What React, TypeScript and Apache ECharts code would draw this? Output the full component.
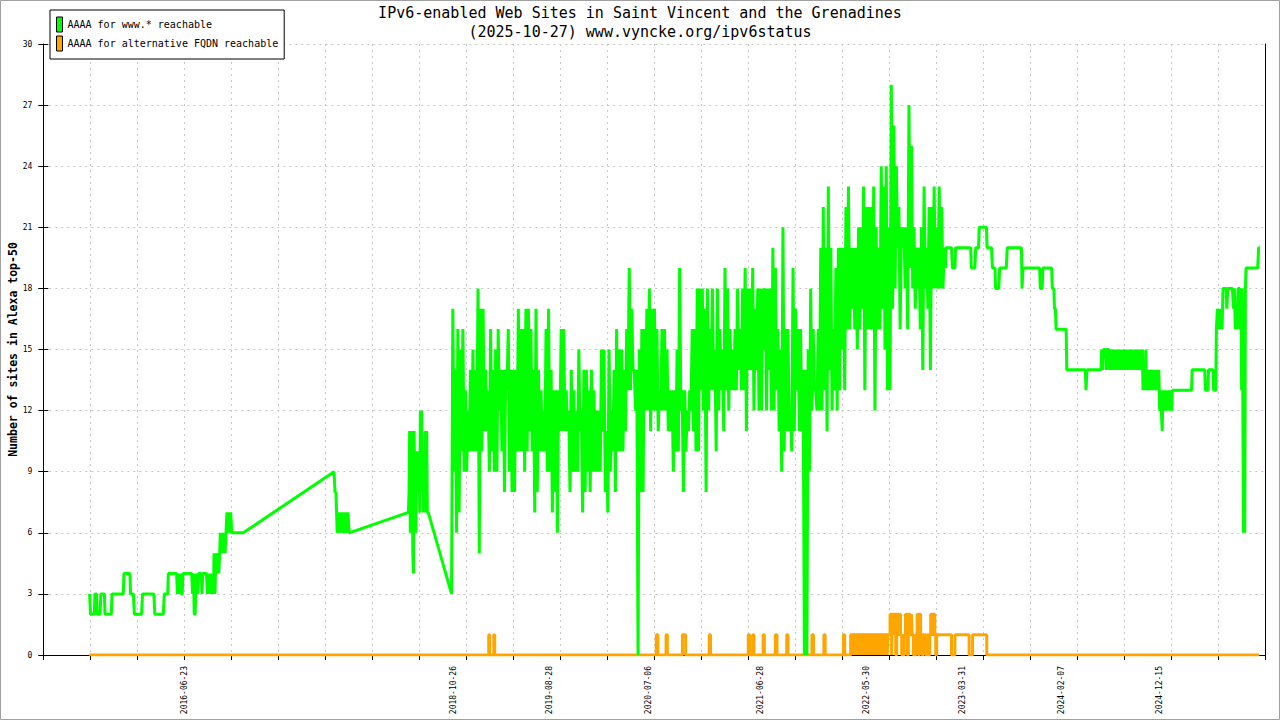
import { useEffect, useRef } from 'react';
import * as echarts from 'echarts';

const MONO = '"DejaVu Sans Mono", "Liberation Mono", monospace';

// x values are days counted from 2015-04-03
const ORIGIN = Date.UTC(2015, 3, 3);
const X_TICK = 149.2;
const X_MAX = 3879.2;

const xLabelDates = [
  '2016-06-23', '2018-10-26', '2019-08-28', '2020-07-06', '2021-06-28',
  '2022-05-30', '2023-03-31', '2024-02-07', '2024-12-15',
];

const TITLE = 'IPv6-enabled Web Sites in Saint Vincent and the Grenadines';
const SUBTITLE = '(2025-10-27) www.vyncke.org/ipv6status';
const GREEN_NAME = 'AAAA for www.* reachable';
const ORANGE_NAME = 'AAAA for alternative FQDN reachable';

// sparse samples before the daily series starts
const greenEarly: [number, number][] = [
  [147, 3], [150, 2], [162, 2], [164, 3], [169, 3], [171, 2], [180, 2], [183, 3], [194, 3], [196, 2],
  [216, 2], [218, 3], [254, 3], [256, 4], [275, 4], [277, 3], [286, 3], [289, 2], [312, 2], [315, 3],
  [351, 3], [354, 2], [381, 2], [384, 3], [395, 3], [397, 4], [423, 4], [426, 3], [429, 4], [432, 3],
  [435, 4], [438, 3], [441, 3], [443, 4], [471, 4], [474, 3], [477, 4], [479, 2], [482, 2], [484, 3],
  [487, 4], [490, 3], [493, 4], [501, 4], [504, 3], [506, 4], [518, 4], [521, 3], [524, 4], [527, 3],
  [530, 4], [533, 3], [536, 4], [540, 3], [542, 5], [545, 3], [548, 5], [551, 4], [554, 5], [557, 4],
  [560, 5], [562, 6], [565, 5], [568, 6], [571, 5], [574, 6], [577, 5], [580, 6], [583, 7], [586, 6],
  [589, 7], [592, 6], [595, 7], [598, 6], [635, 6], [923, 9], [926, 8], [929, 8], [931, 7], [933, 6],
  [937, 7], [940, 6], [943, 7], [946, 6], [951, 7], [956, 6], [961, 7], [964, 6], [967, 7], [971, 6],
  [1159, 7], [1161, 8], [1163, 11], [1165, 6], [1167, 11], [1169, 8], [1171, 11], [1173, 5], [1175, 4],
  [1177, 11], [1179, 8], [1181, 10], [1183, 6], [1185, 10], [1187, 9], [1189, 10], [1191, 8], [1193, 10],
  [1195, 7], [1197, 12], [1199, 8], [1201, 12], [1203, 9], [1205, 10], [1207, 7], [1209, 10], [1211, 8],
  [1213, 11], [1215, 7], [1217, 11], [1219, 7], [1222, 7], [1296, 3],
];

// daily period: highest and lowest value in each 8-day bin
const DENSE_START = 1300;
const DENSE_STEP = 8;
const greenDenseHigh = [
  17, 14, 16, 15, 16, 13, 12, 14, 15, 14, 18, 17, 17, 14, 13, 16, 14, 15, 16, 14,
  14, 14, 16, 14, 14, 14, 17, 16, 16, 17, 17, 16, 14, 17, 14, 13, 12, 16, 17, 14,
  13, 13, 13, 16, 16, 13, 12, 14, 13, 12, 15, 12, 14, 14, 13, 14, 13, 12, 12, 15,
  15, 11, 15, 12, 14, 16, 15, 15, 14, 16, 19, 17, 14, 14,
  15, 16, 16, 17, 18, 17, 17, 16, 13, 16, 16, 15, 13, 13, 13, 15, 19, 13, 13, 12,
  13, 16, 16, 18, 18, 18, 17, 18, 16, 18, 15, 18, 16, 15, 19, 18, 16, 15, 16, 18,
  16, 18, 19, 18, 18, 19, 17, 18,
  18, 18, 18, 18, 18, 20, 19, 16, 15, 21, 16, 16, 12, 19, 17, 16, 16, 14, 14, 15,
  18, 16, 13, 16,
  20, 22, 20, 23, 20, 16, 19, 20, 20, 20, 22, 23, 20, 20, 20, 21, 21, 23, 22,
  22, 22, 23, 21, 20, 24, 23, 24, 21, 28, 26, 24, 22, 21, 21, 21, 27, 25, 21, 20,
  20, 21, 23, 20, 22, 22, 23, 21, 23, 22, 20,
];
const greenDenseLow = [
  9, 6, 7, 10, 9, 9, 10, 10, 10, 10, 5, 10, 11, 11, 9, 10, 9, 9, 12, 10,
  8, 13, 9, 8, 8, 10, 10, 10, 9, 10, 11, 10, 7, 8, 10, 10, 10, 9, 9, 7,
  8, 6, 11, 11, 11, 11, 8, 9, 9, 9, 11, 7, 8, 9, 8, 9, 9, 9, 9, 11,
  8, 7, 9, 10, 8, 10, 10, 10, 11, 13, 13, 14, 12, 0,
  8, 8, 12, 12, 11, 12, 12, 11, 12, 12, 12, 11, 11, 9, 10, 10, 12, 8, 10, 11,
  12, 11, 10, 10, 13, 12, 8, 12, 13, 13, 10, 12, 13, 11, 13, 12, 13, 13, 13, 14,
  13, 13, 11, 14, 14, 12, 14, 12,
  12, 15, 12, 14, 12, 12, 13, 11, 9, 10, 11, 11, 10, 11, 13, 11, 11, 0, 0, 9,
  12, 13, 12, 12,
  12, 13, 11, 14, 12, 13, 12, 13, 15, 13, 16, 16, 17, 16, 15, 16, 17, 13, 16,
  16, 16, 12, 16, 16, 17, 15, 13, 13, 17, 18, 20, 16, 20, 18, 16, 19, 18, 17, 18,
  16, 14, 18, 17, 14, 18, 18, 18, 18, 18, 19,
];

const greenLate: [number, number][] = [
  [2865, 20], [2883, 20], [2886, 19], [2894, 19], [2896, 20], [2944, 20], [2946, 19], [2957, 19],
  [2960, 20], [2969, 20], [2971, 21], [2994, 21], [2996, 20], [3010, 20], [3013, 19], [3021, 19],
  [3023, 18], [3033, 18], [3036, 19], [3057, 19], [3060, 20], [3105, 20], [3107, 18], [3110, 19],
  [3163, 19], [3165, 18], [3171, 18], [3173, 19], [3201, 19], [3203, 18], [3208, 18], [3210, 17],
  [3213, 17], [3215, 16], [3247, 16], [3249, 14], [3308, 14], [3310, 13], [3313, 14], [3358, 14],
  [3360, 15], [3363, 14], [3365, 15], [3373, 15], [3375, 14], [3377, 15], [3383, 15], [3385, 14],
  [3387, 15], [3393, 14], [3395, 15], [3398, 14], [3400, 15], [3403, 14], [3406, 15], [3409, 14],
  [3412, 15], [3415, 14], [3418, 15], [3421, 14], [3424, 15], [3427, 14], [3430, 15], [3433, 14],
  [3436, 15], [3439, 14], [3442, 15], [3445, 14], [3448, 15], [3451, 14], [3454, 15], [3457, 14],
  [3460, 15], [3463, 14], [3466, 15], [3469, 14], [3472, 15], [3475, 14], [3478, 15], [3481, 14],
  [3484, 15], [3487, 14], [3489, 15], [3491, 13], [3494, 14], [3497, 13], [3500, 15], [3502, 13],
  [3505, 14], [3508, 13], [3511, 14], [3514, 13], [3517, 14], [3520, 13], [3523, 14], [3526, 13],
  [3529, 14], [3532, 13], [3535, 14], [3538, 13], [3541, 14], [3544, 12], [3547, 13], [3549, 12],
  [3552, 11], [3554, 13], [3557, 12], [3560, 13], [3563, 12], [3566, 13], [3569, 12], [3572, 13],
  [3575, 12], [3578, 13], [3582, 12], [3584, 13], [3645, 13], [3647, 14], [3687, 14], [3689, 13],
  [3697, 13], [3699, 14], [3713, 14], [3715, 13], [3722, 13], [3724, 16], [3727, 17], [3730, 16],
  [3733, 17], [3736, 16], [3739, 17], [3742, 16], [3745, 18], [3755, 18], [3757, 17], [3760, 18],
  [3775, 18], [3778, 17], [3781, 18], [3784, 16], [3787, 17], [3790, 16], [3793, 18], [3798, 18],
  [3800, 16], [3802, 18], [3804, 13], [3806, 18], [3808, 12], [3810, 6], [3812, 7], [3814, 6],
  [3816, 18], [3818, 19], [3855, 19], [3858, 20], [3862, 20],
];

// change points: value holds until the next entry
const orangeSteps: [number, number][] = [
  [146, 0], [1414, 1], [1417, 0], [1430, 1], [1433, 0], [1946, 1], [1951, 0], [1977, 1], [1981, 0],
  [2029, 1], [2039, 0], [2114, 1], [2118, 0], [2238, 1], [2242, 0], [2252, 1], [2256, 0], [2285, 1],
  [2289, 0], [2324, 1], [2329, 0], [2360, 1], [2364, 0], [2440, 1], [2445, 0], [2478, 1], [2482, 0],
  [2540, 1], [2544, 0], [2563, 1], [2567, 0], [2569, 1], [2574, 0], [2576, 1], [2581, 0], [2583, 1],
  [2588, 0], [2590, 1], [2595, 0], [2597, 1], [2602, 0], [2604, 1], [2609, 0], [2611, 1], [2616, 0],
  [2618, 1], [2623, 0], [2625, 1], [2630, 0], [2632, 1], [2637, 0], [2639, 1], [2644, 0], [2646, 1],
  [2651, 0], [2653, 1], [2658, 0], [2660, 1], [2665, 0], [2667, 1], [2672, 0], [2674, 1], [2679, 0],
  [2681, 1], [2688, 2], [2693, 0], [2695, 2], [2698, 1], [2700, 2], [2706, 0], [2709, 2], [2715, 1],
  [2718, 2], [2721, 1], [2725, 0], [2733, 1], [2737, 2], [2743, 0], [2746, 2], [2752, 1], [2756, 2],
  [2758, 1], [2762, 0], [2770, 1], [2774, 2], [2778, 0], [2781, 2], [2785, 1], [2790, 0], [2793, 1],
  [2801, 0], [2806, 1], [2810, 0], [2814, 1], [2817, 2], [2823, 1], [2826, 2], [2830, 1], [2833, 0],
  [2836, 1], [2883, 0], [2894, 1], [2939, 0], [2950, 1], [2995, 0], [3860, 0],
];

const dayOf = (s: string) => Math.round((Date.parse(s) - ORIGIN) / 86400000);
const fmtDay = (d: number) => new Date(ORIGIN + Math.round(d) * 86400000).toISOString().slice(0, 10);

export default function App() {
  const chartRef = useRef<HTMLDivElement>(null);

  useEffect(() => {
    if (!chartRef.current) return;
    const chart = echarts.init(chartRef.current, null, { renderer: 'svg' });

    const dense = greenDenseHigh.flatMap((h, i) => [
      [DENSE_START + DENSE_STEP * i, h],
      [DENSE_START + DENSE_STEP * i + DENSE_STEP / 2, greenDenseLow[i]],
    ]);
    const greenData = [...greenEarly, ...dense, ...greenLate];
    const grid = { lineStyle: { color: '#c8c8c8', width: 1, type: [2, 4] } };

    chart.setOption({
      animation: false,
      backgroundColor: '#fff',
      textStyle: { fontFamily: MONO },
      title: {
        text: TITLE + '\n' + SUBTITLE,
        left: 'center',
        top: 3,
        padding: 0,
        textStyle: { fontFamily: MONO, fontSize: 15, fontWeight: 'normal', color: '#000', lineHeight: 19 },
      },
      legend: {
        data: [GREEN_NAME, ORANGE_NAME],
        orient: 'vertical',
        left: 50,
        top: 10,
        icon: 'rect',
        itemWidth: 6,
        itemHeight: 15,
        itemGap: 3,
        padding: [6.5, 6, 7.5, 6],
        borderColor: '#000',
        borderWidth: 1,
        backgroundColor: '#fff',
        selectedMode: false,
        itemStyle: { borderColor: '#000', borderWidth: 1 },
        textStyle: { fontFamily: MONO, fontSize: 10, color: '#000', padding: [0, 0, 0, 0] },
      },
      grid: { left: 43.3, right: 14.7, top: 44, bottom: 65, outerBoundsMode: 'none' },
      xAxis: {
        type: 'value',
        min: 0,
        max: X_MAX,
        interval: X_TICK,
        axisLine: { lineStyle: { color: '#000', width: 1 } },
        axisTick: { show: true, length: 5, lineStyle: { color: '#000' } },
        splitLine: { show: true, ...grid },
        axisLabel: {
          customValues: xLabelDates.map(dayOf),
          formatter: (v: number) => fmtDay(v),
          rotate: 90,
          margin: 11,
          fontSize: 8,
          fontFamily: MONO,
          color: '#000',
        },
      },
      yAxis: [
        {
          type: 'value',
          position: 'left',
          min: 0,
          max: 30,
          interval: 3,
          name: 'Number of sites in Alexa top-50',
          nameLocation: 'middle',
          nameGap: 24,
          nameMoveOverlap: false,
          nameRotate: 90,
          nameTextStyle: { fontFamily: MONO, fontSize: 11.5, fontWeight: 'bold', color: '#000' },
          axisLine: { show: true, lineStyle: { color: '#000', width: 1 } },
          axisTick: { show: true, length: 5, lineStyle: { color: '#000' } },
          axisLabel: { fontSize: 8, margin: 11, fontFamily: MONO, color: '#000' },
          splitLine: { show: true, ...grid },
        },
        {
          type: 'value',
          position: 'left',
          min: 0,
          max: 30,
          interval: 3,
          axisLine: { show: false },
          axisTick: { show: true, inside: true, length: 5, lineStyle: { color: '#000' } },
          axisLabel: { show: false },
          splitLine: { show: false },
        },
        {
          type: 'value',
          position: 'right',
          min: 0,
          max: 30,
          axisLine: { show: true, lineStyle: { color: '#000', width: 1 } },
          axisTick: { show: false },
          axisLabel: { show: false },
          splitLine: { show: false },
        },
      ],
      graphic: [
        {
          type: 'rect',
          silent: true,
          shape: { x: 0.5, y: 0.5, width: 1279, height: 719 },
          style: { fill: 'none', stroke: '#a0a0a0', lineWidth: 1 },
        },
      ],
      series: [
        {
          name: ORANGE_NAME,
          type: 'line',
          data: orangeSteps,
          step: 'end',
          symbol: 'none',
          showSymbol: false,
          z: 2,
          emphasis: { disabled: true },
          itemStyle: { color: '#ffa500' },
          lineStyle: { color: '#ffa500', width: 3, join: 'bevel' },
        },
        {
          name: GREEN_NAME,
          type: 'line',
          data: greenData,
          symbol: 'none',
          showSymbol: false,
          z: 3,
          emphasis: { disabled: true },
          itemStyle: { color: '#00ff00' },
          lineStyle: { color: '#00ff00', width: 3, join: 'bevel' },
        },
      ],
    });

    return () => chart.dispose();
  }, []);

  return (
    <div
      ref={chartRef}
      style={{ position: 'absolute', left: 0, top: 0, width: 1280, height: 720, background: '#fff' }}
    />
  );
}
